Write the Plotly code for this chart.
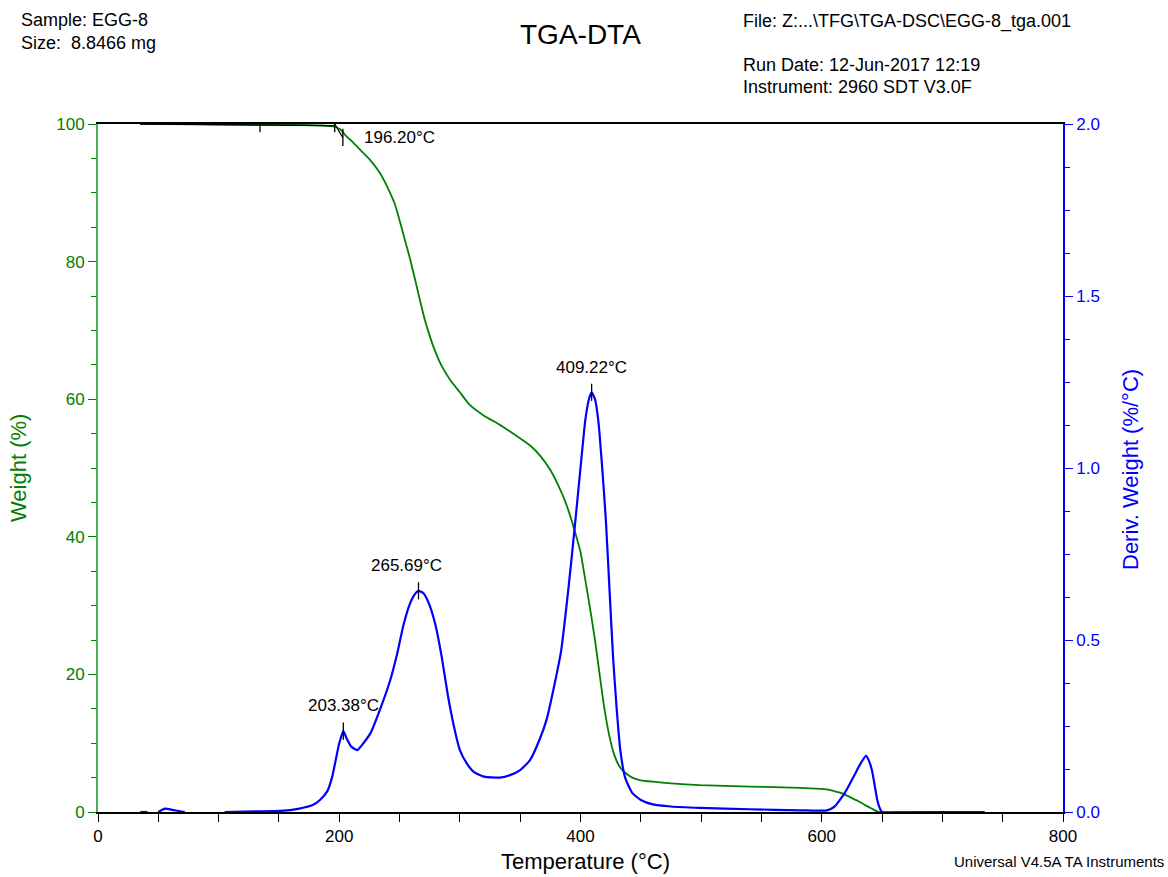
import plotly.graph_objects as go

# ---------------- data ----------------
tga_temp = [35, 60, 100, 150, 180, 196.5, 201, 205, 211, 217, 225, 234, 240, 246, 250, 254.5,
            259, 263, 267, 271, 275, 279, 285, 292, 300, 308, 320, 333, 345, 358, 367, 375,
            381, 387, 391, 395, 400, 404, 408, 412, 416, 420, 424, 428, 432, 437, 443, 449,
            460, 475, 499, 540, 582, 599, 605, 611, 617, 623, 630, 636, 642, 647, 660, 700, 735]
tga_weight = [100, 100, 99.95, 99.9, 99.8, 99.6, 99.2, 98.4, 97.4, 96.3, 94.9, 92.8, 90.8, 88.4,
              86.0, 83.1, 80.2, 77.3, 74.3, 71.5, 69.2, 67.2, 64.8, 62.8, 61.0, 59.2, 57.6,
              56.3, 54.9, 53.3, 51.7, 49.7, 47.7, 45.3, 43.3, 41.0, 37.8, 33.7, 29.5, 25.0,
              19.8, 14.8, 11.0, 8.3, 6.7, 5.7, 5.0, 4.65, 4.4, 4.15, 3.9, 3.7, 3.5, 3.35, 3.25,
              3.0, 2.7, 2.2, 1.6, 1.0, 0.45, 0.0, 0.0, 0.0, 0.0]

dtg_temp = [35, 41, 46, 50, 55.5, 62, 68, 72, None, 105, 130, 151, 167, 178, 184, 190, 194, 197,
            200, 203.4, 206, 210, 215, 220, 226, 234, 242, 248, 253, 258, 262, 265.7, 270, 275,
            280, 285, 290, 295, 300, 306, 312, 320, 333, 342, 350, 358, 366, 372, 379, 384,
            390, 395, 400, 404, 407, 409.2, 412, 415, 418, 421, 424, 427, 430, 433, 437, 443,
            450, 460, 475, 499, 540, 582, 603, 607, 611, 615, 619, 623, 627.5, 632, 636.7, 639,
            641.7, 644, 646, 648, 650, 690, 735]
dtg_value = [0.0, 0.0, None, 0.0, 0.01, 0.006, 0.002, 0.0, None, 0.0, 0.002, 0.003, 0.01, 0.02,
             0.035, 0.06, 0.1, 0.15, 0.2, 0.235, 0.215, 0.19, 0.18, 0.2, 0.23, 0.30, 0.38,
             0.46, 0.54, 0.6, 0.63, 0.643, 0.635, 0.6, 0.54, 0.45, 0.34, 0.25, 0.18, 0.14,
             0.115, 0.103, 0.10, 0.108, 0.122, 0.15, 0.21, 0.27, 0.38, 0.47, 0.65, 0.82, 1.0,
             1.14, 1.2, 1.22, 1.2, 1.13, 1.0, 0.85, 0.65, 0.45, 0.3, 0.18, 0.1, 0.055, 0.035,
             0.022, 0.016, 0.012, 0.008, 0.005, 0.004, 0.008, 0.017, 0.035, 0.055, 0.08, 0.11,
             0.14, 0.163, 0.15, 0.12, 0.075, 0.035, 0.012, 0.0, 0.0, 0.0]

peak_temps = [203.38, 265.69, 409.22]
peak_values = [0.235, 0.643, 1.22]
peak_labels = ["203.38°C", "265.69°C", "409.22°C"]

onset_temp = 196.20
onset_label = "196.20°C"

x_ticks = [0, 200, 400, 600, 800]
w_ticks = [0, 20, 40, 60, 80, 100]
d_ticks = [0.0, 0.5, 1.0, 1.5, 2.0]

GREEN = "#008000"
BLUE = "#0000ff"
FONT = "Liberation Sans, Arial, sans-serif"

# plot area in pixels (for layout only)
L, R, T, B = 98, 1063, 124, 812
def px(x):
    return (x - L) / (R - L)
def py(y):
    return (B - y) / (B - T)

fig = go.Figure()
fig.add_trace(go.Scatter(x=tga_temp, y=tga_weight, mode="lines",
                         line=dict(color=GREEN, width=1.8, shape="spline", smoothing=0.5),
                         yaxis="y", connectgaps=False))
fig.add_trace(go.Scatter(x=dtg_temp, y=dtg_value, mode="lines",
                         line=dict(color=BLUE, width=2.2, shape="spline", smoothing=0.5),
                         yaxis="y2", connectgaps=False))

shapes = []
for t, v in zip(peak_temps, peak_values):
    shapes.append(dict(type="line", xref="x", yref="y2", x0=t, x1=t, y0=v - 0.025, y1=v + 0.025,
                       line=dict(color="black", width=1.3)))
shapes += [
    dict(type="line", xref="x", yref="y", x0=35, x1=onset_temp, y0=100, y1=99.75,
         line=dict(color="black", width=1.3)),
    dict(type="line", xref="x", yref="y", x0=134.3, x1=134.3, y0=98.8, y1=101.2,
         line=dict(color="black", width=1.3)),
    dict(type="line", xref="x", yref="y", x0=onset_temp, x1=onset_temp, y0=98.8, y1=101.2,
         line=dict(color="black", width=1.3)),
    dict(type="line", xref="x", yref="y", x0=onset_temp, x1=203, y0=100, y1=98,
         line=dict(color="black", width=1.3)),
    dict(type="line", xref="x", yref="y", x0=203, x1=203, y0=96.8, y1=99.3,
         line=dict(color="black", width=1.3)),
]

annotations = []
xshifts = [0, -12, 0]
for t, v, lab, xs in zip(peak_temps, peak_values, peak_labels, xshifts):
    annotations.append(dict(x=t, y=v + 0.04, xref="x", yref="y2", text=lab, showarrow=False,
                            yanchor="bottom", xshift=xs, font=dict(size=17, color="black")))
annotations.append(dict(x=px(362), y=py(137), xref="paper", yref="paper", text=onset_label,
                        showarrow=False, xanchor="left", yanchor="middle",
                        font=dict(size=17, color="black")))

def hdr(x, y, text, size=18, anchor="left", color="black", angle=0):
    annotations.append(dict(x=px(x), y=py(y), xref="paper", yref="paper", text=text,
                            showarrow=False, xanchor=anchor, yanchor="middle", textangle=angle,
                            font=dict(size=size, color=color)))

hdr(19, 20, "Sample: EGG-8")
hdr(19, 43, "Size:  8.8466 mg")
hdr(580, 34, "TGA-DTA", size=28, anchor="center")
hdr(741, 21, "File: Z:...\\TFG\\TGA-DSC\\EGG-8_tga.001")
hdr(741, 65, "Run Date: 12-Jun-2017 12:19")
hdr(741, 87, "Instrument: 2960 SDT V3.0F")
hdr(1166, 861, "Universal V4.5A TA Instruments", size=15, anchor="right")
hdr(585, 862, "Temperature (°C)", size=22, anchor="center")
hdr(18, 468, "Weight (%)", size=22, anchor="center", color=GREEN, angle=-90)
hdr(1130, 470, "Deriv. Weight (%/°C)", size=22, anchor="center", color=BLUE, angle=-90)

fig.update_layout(
    width=1168, height=877,
    margin=dict(l=L, r=1168 - R, t=T, b=877 - B),
    paper_bgcolor="white", plot_bgcolor="white",
    showlegend=False,
    font=dict(family=FONT, size=17, color="black"),
    shapes=shapes, annotations=annotations,
    xaxis=dict(range=[0, 800], tickvals=x_ticks, ticks="outside", ticklen=8, tickwidth=1.2,
               tickcolor="black", showline=True, linecolor="black", linewidth=1.5,
               mirror=True, showgrid=False, zeroline=False,
               tickfont=dict(size=17, color="black"),
               minor=dict(dtick=50, ticks="outside", ticklen=8, tickcolor="black", tickwidth=1.2,
                          showgrid=False)),
    yaxis=dict(range=[0, 100], tickvals=w_ticks, ticks="outside", ticklen=8, tickwidth=1.2,
               tickcolor=GREEN, showline=True, linecolor="#4caf50", linewidth=1.8,
               showgrid=False, zeroline=False, tickfont=dict(size=17, color=GREEN),
               minor=dict(dtick=5, ticks="outside", ticklen=5, tickcolor=GREEN, tickwidth=1.2,
                          showgrid=False)),
    yaxis2=dict(range=[0, 2.0], tickvals=d_ticks, tickformat=".1f", overlaying="y", side="right",
                ticks="outside", ticklen=8, tickwidth=1.2, tickcolor=BLUE, showline=True,
                linecolor=BLUE, linewidth=1.8, showgrid=False, zeroline=False,
                tickfont=dict(size=17, color=BLUE),
                minor=dict(dtick=0.125, ticks="outside", ticklen=5, tickcolor=BLUE, tickwidth=1.2,
                           showgrid=False)),
)

fig.write_html("out.html")
